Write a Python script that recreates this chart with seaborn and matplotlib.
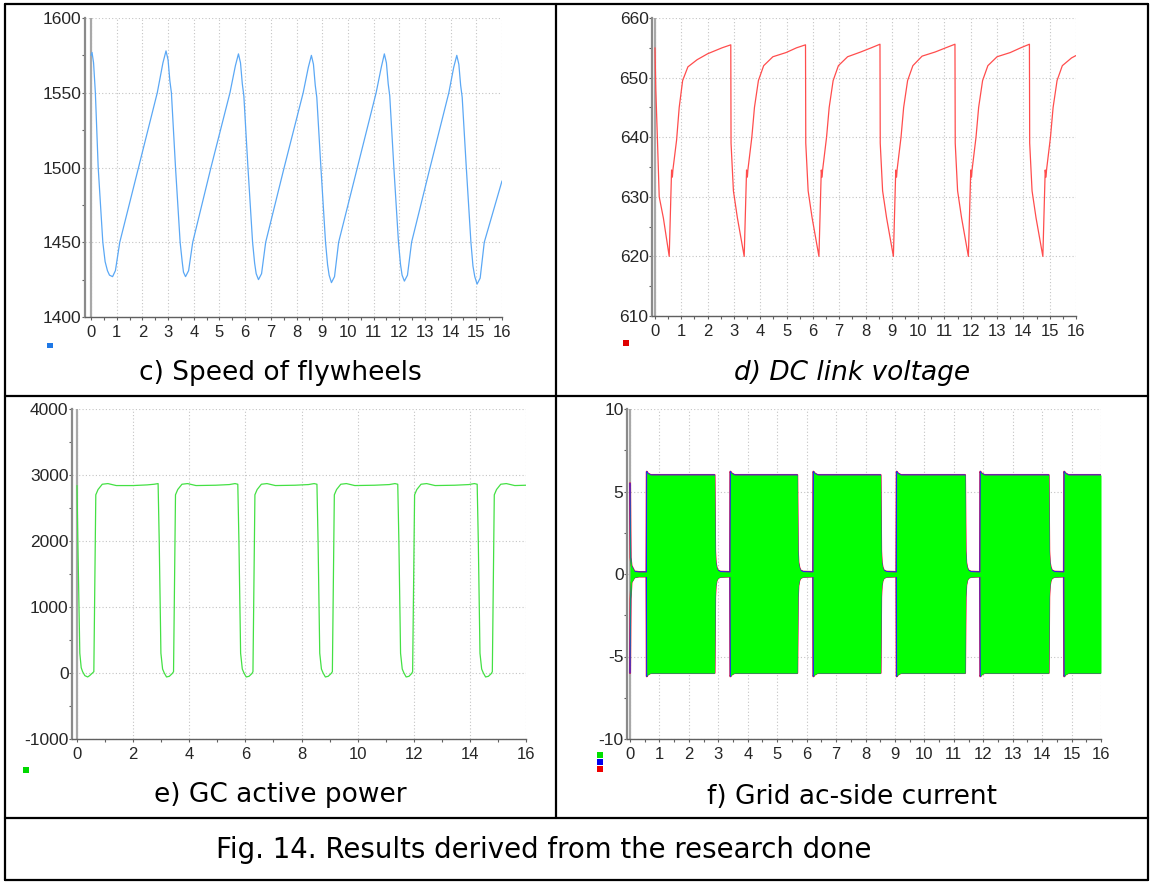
import numpy as np
import seaborn as sns
import matplotlib.pyplot as plt
from matplotlib.lines import Line2D
from matplotlib.patches import Rectangle
from matplotlib.ticker import MultipleLocator

W, H = 1151, 882

# c) speed of flywheels
speed_t = [0.0, 0.04, 0.1, 0.17, 0.28, 0.46, 0.55, 0.64, 0.72, 0.84, 0.95, 1.12, 1.85, 2.58, 2.8, 2.92,
           3.0, 3.07, 3.13, 3.29, 3.47, 3.55, 3.6, 3.68, 3.8, 3.96, 4.67, 5.41, 5.62, 5.74,
           5.82, 5.89, 5.95, 6.11, 6.29, 6.37, 6.43, 6.52, 6.64, 6.8, 7.52, 8.26, 8.46, 8.58,
           8.66, 8.73, 8.79, 8.95, 9.13, 9.21, 9.27, 9.36, 9.48, 9.64, 10.37, 11.1, 11.3, 11.42,
           11.5, 11.57, 11.63, 11.79, 11.97, 12.05, 12.11, 12.2, 12.32, 12.48, 13.2, 13.93, 14.12, 14.24,
           14.32, 14.39, 14.45, 14.61, 14.79, 14.87, 14.94, 15.03, 15.15, 15.31, 16.0]
speed_v = [1575, 1577, 1570, 1550, 1500, 1450, 1437, 1431, 1428, 1427, 1431, 1450, 1500, 1550, 1570, 1578,
           1572, 1558, 1550, 1500, 1450, 1437, 1430, 1427, 1431, 1450, 1500, 1550, 1568, 1576,
           1570, 1556, 1548, 1500, 1450, 1436, 1429, 1425, 1429, 1450, 1500, 1550, 1567, 1575,
           1569, 1555, 1547, 1500, 1450, 1435, 1428, 1423, 1427, 1450, 1500, 1550, 1567, 1576,
           1570, 1556, 1548, 1500, 1450, 1435, 1428, 1424, 1428, 1450, 1500, 1550, 1567, 1575,
           1569, 1555, 1547, 1500, 1450, 1434, 1427, 1422, 1426, 1450, 1491]

# d) DC link voltage
dc_t = [0.0, 0.03, 0.09, 0.16, 0.32, 0.54, 0.63, 0.66, 0.68, 0.82, 0.92, 1.05, 1.25, 1.6, 2.0, 2.55, 2.88,
        2.89, 2.98, 3.13, 3.39, 3.48, 3.51, 3.53, 3.68, 3.78, 3.93, 4.13, 4.48, 4.98, 5.38, 5.72,
        5.73, 5.82, 5.97, 6.23, 6.32, 6.35, 6.37, 6.52, 6.62, 6.77, 6.97, 7.32, 7.82, 8.22, 8.55,
        8.56, 8.65, 8.8, 9.06, 9.15, 9.18, 9.2, 9.35, 9.45, 9.6, 9.8, 10.15, 10.65, 11.05, 11.4,
        11.41, 11.5, 11.65, 11.91, 12.0, 12.03, 12.05, 12.2, 12.3, 12.45, 12.65, 13.0, 13.5, 13.9, 14.23,
        14.24, 14.33, 14.48, 14.74, 14.83, 14.86, 14.88, 15.03, 15.13, 15.28, 15.48, 15.83, 16.0]
dc_v = [655, 648, 640, 630, 626.4, 620, 634.5, 633.3, 634.5, 639.5, 645, 649.5, 651.8, 653, 654, 655, 655.5,
        639, 631, 626.5, 620, 634.5, 633.3, 634.5, 640, 645, 649.5, 652, 653.5, 654.2, 655, 655.5,
        639, 631, 626.5, 620, 634.5, 633.3, 634.5, 640, 645, 649.5, 652, 653.5, 654.3, 655, 655.6,
        639, 631, 626.5, 620, 634.5, 633.3, 634.5, 640, 645, 649.5, 652, 653.6, 654.3, 655, 655.6,
        639, 631, 626.5, 620, 634.5, 633.3, 634.5, 640, 645, 649.5, 652, 653.5, 654.2, 655, 655.6,
        639, 631, 626.5, 620, 634.5, 633.3, 634.5, 640, 645, 649.5, 652, 653.3, 653.7]

# e) GC active power
pw_t = [0.0, 0.03, 0.1, 0.15, 0.2, 0.28, 0.38, 0.45, 0.55, 0.6, 0.67, 0.75, 0.9, 1.1, 1.4, 2.0, 2.5, 2.75, 2.89,
        2.93, 2.99, 3.05, 3.11, 3.19, 3.29, 3.39, 3.44, 3.51, 3.59, 3.74, 3.94, 4.24, 4.94, 5.43, 5.63, 5.73,
        5.77, 5.83, 5.89, 5.95, 6.03, 6.13, 6.23, 6.27, 6.34, 6.42, 6.57, 6.77, 7.07, 7.77, 8.25, 8.45, 8.55,
        8.59, 8.65, 8.71, 8.77, 8.85, 8.95, 9.05, 9.1, 9.17, 9.25, 9.4, 9.6, 9.9, 10.6, 11.13, 11.33, 11.43,
        11.47, 11.53, 11.59, 11.65, 11.73, 11.83, 11.92, 11.96, 12.03, 12.11, 12.26, 12.46, 12.76, 13.46, 13.96, 14.16, 14.26,
        14.3, 14.36, 14.42, 14.48, 14.56, 14.66, 14.76, 14.8, 14.87, 14.95, 15.1, 15.3, 15.6, 16.0]
pw_v = [2840, 2000, 300, 80, 20, -40, -60, -40, 0, 20, 2700, 2780, 2860, 2870, 2840, 2840, 2850, 2860, 2870,
        2000, 300, 60, 0, -60, -50, -10, 20, 2700, 2780, 2860, 2870, 2840, 2845, 2855, 2870, 2860,
        2000, 300, 60, 0, -60, -50, -10, 20, 2700, 2780, 2860, 2870, 2840, 2845, 2855, 2870, 2860,
        2000, 300, 60, 0, -60, -50, -10, 20, 2700, 2780, 2860, 2870, 2840, 2845, 2855, 2870, 2860,
        2000, 300, 60, 0, -60, -50, -10, 20, 2700, 2780, 2860, 2870, 2840, 2845, 2855, 2870, 2860,
        2000, 300, 60, 0, -60, -50, -10, 20, 2700, 2780, 2860, 2870, 2840, 2845]

# f) grid ac-side current, envelope of the three phases
cur_t = [0.0, 0.02, 0.05, 0.15, 0.3, 0.56, 0.57, 0.6, 0.7, 2.87, 2.89, 2.91, 2.94, 2.98, 3.07, 3.4,
         3.41, 3.45, 3.55, 5.68, 5.70, 5.72, 5.75, 5.79, 5.88, 6.22,
         6.23, 6.27, 6.37, 8.51, 8.53, 8.55, 8.58, 8.62, 8.71, 9.05,
         9.06, 9.1, 9.2, 11.38, 11.40, 11.42, 11.45, 11.49, 11.58, 11.89,
         11.9, 11.94, 12.04, 14.22, 14.24, 14.26, 14.29, 14.33, 14.42, 14.74,
         14.75, 14.79, 14.89, 16.0]
cur_hi = [5.5, 1.0, 0.5, 0.15, 0.12, 0.12, 6.2, 6.1, 6.0, 6.0, 1.4, 0.7, 0.4, 0.22, 0.14, 0.12,
          6.2, 6.1, 6.0, 6.0, 1.4, 0.7, 0.4, 0.22, 0.14, 0.12,
          6.2, 6.1, 6.0, 6.0, 1.4, 0.7, 0.4, 0.22, 0.14, 0.12,
          6.2, 6.1, 6.0, 6.0, 1.4, 0.7, 0.4, 0.22, 0.14, 0.12,
          6.2, 6.1, 6.0, 6.0, 1.4, 0.7, 0.4, 0.22, 0.14, 0.12,
          6.2, 6.1, 6.0, 6.0]
cur_lo = [-6.0, -1.5, -0.5, -0.2, -0.15, -0.15, -6.2, -6.1, -6.0, -6.0, -1.4, -0.7, -0.4, -0.25, -0.17, -0.15,
          -6.2, -6.1, -6.0, -6.0, -1.4, -0.7, -0.4, -0.25, -0.17, -0.15,
          -6.2, -6.1, -6.0, -6.0, -1.4, -0.7, -0.4, -0.25, -0.17, -0.15,
          -6.2, -6.1, -6.0, -6.0, -1.4, -0.7, -0.4, -0.25, -0.17, -0.15,
          -6.2, -6.1, -6.0, -6.0, -1.4, -0.7, -0.4, -0.25, -0.17, -0.15,
          -6.2, -6.1, -6.0, -6.0]

sns.set_style("white")
plt.rcParams['font.family'] = ['Liberation Sans', 'DejaVu Sans']
plt.rcParams['axes.unicode_minus'] = False

fig = plt.figure(figsize=(W / 100, H / 100), dpi=100)


def px(x, y):
    return x / W, 1 - y / H


def make_axes(spine, t0, t16, ytop, ybot, ylim, ymajor, xmajor):
    l, b = px(spine, ybot)
    ax = fig.add_axes([l, b, (t16 - spine) / W, (ybot - ytop) / H])
    ax.set_xlim(-(t0 - spine) / ((t16 - t0) / 16), 16)
    ax.set_ylim(*ylim)
    ax.xaxis.set_major_locator(MultipleLocator(xmajor))
    ax.xaxis.set_minor_locator(MultipleLocator(xmajor / 2))
    ax.yaxis.set_major_locator(MultipleLocator(ymajor))
    ax.yaxis.set_minor_locator(MultipleLocator(ymajor / 2))
    ax.set_xticks(np.arange(0, 16.01, xmajor))
    sns.despine(ax=ax)
    ax.spines['left'].set_color('#8a8a8a')
    ax.spines['left'].set_linewidth(1.6)
    ax.spines['bottom'].set_color('#606060')
    ax.spines['bottom'].set_linewidth(1.0)
    ax.axvline(0, color='#a8a8a8', lw=1.6, zorder=1)
    ax.grid(True, which='major', color='#c4c4c4', linestyle=(0, (1, 2)), linewidth=0.8)
    ax.set_axisbelow(True)
    ax.tick_params(axis='both', which='both', direction='out', length=2.5, width=0.8,
                   color='#606060', bottom=True, left=True)
    ax.tick_params(axis='y', labelsize=12.5, pad=0)
    ax.tick_params(axis='x', labelsize=12, pad=3)
    ax.set_xlabel('')
    ax.set_ylabel('')
    return ax


ax_c = make_axes(85, 91, 502, 18, 317, (1400, 1600), 50, 1)
sns.lineplot(x=speed_t, y=speed_v, ax=ax_c, color='#5ba8f5', linewidth=0.9, estimator=None, sort=False)

ax_d = make_axes(652, 655, 1076, 18, 316, (610, 660), 10, 1)
sns.lineplot(x=dc_t, y=dc_v, ax=ax_d, color='#ff4d4d', linewidth=0.9, estimator=None, sort=False)

ax_e = make_axes(72, 77, 526, 409, 739, (-1000, 4000), 1000, 2)
sns.lineplot(x=pw_t, y=pw_v, ax=ax_e, color='#44e044', linewidth=0.9, estimator=None, sort=False)

ax_f = make_axes(627, 630, 1101, 409, 739, (-10, 10), 5, 1)
for col, lw in (('#ff2020', 1.5), ('#2020ff', 0.9)):
    sns.lineplot(x=cur_t, y=cur_hi, ax=ax_f, color=col, linewidth=lw, estimator=None, sort=False)
    sns.lineplot(x=cur_t, y=cur_lo, ax=ax_f, color=col, linewidth=lw, estimator=None, sort=False)
ax_f.fill_between(cur_t, cur_lo, cur_hi, color='#00ff00', linewidth=0, zorder=3)

# small legend squares under the y axes
for x, y, col in ((50, 345.5, '#1e78e6'), (626, 343, '#e00000'), (26, 770, '#00d800'),
                  (600, 755, '#00e000'), (600, 762, '#0000ee'), (600, 769, '#ee0000')):
    fx, fy = px(x - 2.7, y + 2.7)
    fig.patches.append(Rectangle((fx, fy), 5.4 / W, 5.4 / H, transform=fig.transFigure,
                                 color=col, lw=0))

# panel titles and caption
sub = dict(ha='center', va='center', family=['DejaVu Sans'], color='black')
fig.text(*px(280, 373), 'c) Speed of flywheels', fontsize=19, **sub)
fig.text(*px(852, 373), 'd) DC link voltage', style='italic', fontsize=19, **sub)
fig.text(*px(280, 795), 'e) GC active power', fontsize=19, **sub)
fig.text(*px(852, 797), 'f) Grid ac-side current', fontsize=19, **sub)
fig.text(*px(544, 850), 'Fig. 14. Results derived from the research done', fontsize=19.9, **sub)

# table borders
for x0, y0, x1, y1 in ((5, 4, 1148, 4), (5, 880, 1148, 880), (5, 4, 5, 880), (1148, 4, 1148, 880),
                       (556, 4, 556, 818), (5, 396, 1148, 396), (5, 818, 1148, 818)):
    a, b = px(x0, y0)
    c, d = px(x1, y1)
    fig.lines.append(Line2D([a, c], [b, d], transform=fig.transFigure, color='black', lw=1.6))

fig.savefig('out.png', dpi=100)
